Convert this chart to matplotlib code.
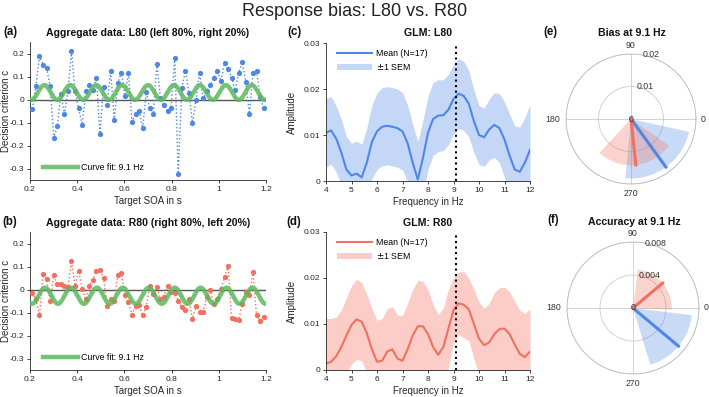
import numpy as np
import matplotlib
matplotlib.use("Agg")
import matplotlib.pyplot as plt

plt.rcParams['font.family'] = ['Liberation Sans', 'DejaVu Sans']

# ---------------- data ----------------
soa_first, soa_last = 0.21, 1.19
crit_L80 = [-0.040, 0.058, 0.187, 0.152, 0.138, 0.057, -0.168, -0.117, 0.025, -0.064,
            0.036, 0.209, 0.035, -0.038, -0.110, 0.035, 0.061, 0.042, 0.094, -0.149,
            0.054, -0.022, 0.126, -0.091, 0.071, 0.117, 0.017, 0.116, -0.097, -0.062,
            -0.048, -0.126, 0.033, -0.039, -0.065, 0.155, 0.006, -0.023, -0.049, -0.036,
            0.180, -0.323, 0.051, 0.123, 0.030, -0.101, -0.001, 0.116, 0.006, 0.036,
            0.065, 0.095, 0.125, 0.080, 0.157, 0.133, 0.095, 0.040, 0.116, 0.162,
            0.075, -0.062, 0.114, 0.126, 0.013, -0.038]
crit_R80 = [-0.014, -0.043, -0.113, 0.068, 0.046, -0.052, 0.061, 0.022, 0.022, 0.014,
            0.010, 0.125, 0.017, 0.080, 0.003, -0.043, 0.017, 0.043, 0.080, 0.084,
            0.051, -0.070, -0.041, -0.052, 0.064, 0.071, -0.026, -0.055, -0.109, -0.070,
            -0.067, -0.113, -0.077, 0.017, -0.019, 0.010, -0.041, -0.033, 0.017, -0.012,
            -0.014, -0.048, -0.077, -0.087, -0.041, -0.128, -0.070, -0.099, -0.096, -0.033,
            -0.004, -0.062, -0.041, 0.003, 0.054, 0.104, -0.125, -0.128, -0.131, -0.062,
            -0.012, -0.026, 0.078, -0.113, -0.135, -0.120]

fit_freq = 9.1
fit_L80 = dict(offset=0.0305, amp=0.032, peak=0.2606)
fit_R80 = dict(offset=-0.027, amp=0.035, peak=0.2636)

freq = [4.0, 4.2, 4.4, 4.6, 4.8, 5.0, 5.2, 5.4, 5.6, 5.8, 6.0, 6.2, 6.4, 6.6, 6.8,
        7.0, 7.2, 7.4, 7.6, 7.8, 8.0, 8.2, 8.4, 8.6, 8.8, 9.0, 9.2, 9.4, 9.6, 9.8,
        10.0, 10.2, 10.4, 10.6, 10.8, 11.0, 11.2, 11.4, 11.6, 11.8, 12.0]
mean_L80 = [0.0105, 0.0110, 0.0092, 0.0062, 0.0025, 0.0012, 0.0016, 0.0008, 0.0040, 0.0085,
            0.0108, 0.0118, 0.0120, 0.0118, 0.0115, 0.0108, 0.0082, 0.0040, 0.0003, 0.0050,
            0.0105, 0.0135, 0.0142, 0.0143, 0.0155, 0.0178, 0.0190, 0.0185, 0.0168, 0.0130,
            0.0100, 0.0095, 0.0112, 0.0122, 0.0115, 0.0090, 0.0055, 0.0025, 0.0020, 0.0040,
            0.0068]
sem_L80 = [0.0075, 0.0073, 0.0072, 0.0072, 0.0071, 0.0070, 0.0071, 0.0072, 0.0075, 0.0080,
           0.0083, 0.0085, 0.0085, 0.0085, 0.0085, 0.0084, 0.0083, 0.0083, 0.0082, 0.0081,
           0.0080, 0.0079, 0.0078, 0.0077, 0.0076, 0.0076, 0.0076, 0.0075, 0.0072, 0.0068,
           0.0064, 0.0063, 0.0066, 0.0070, 0.0075, 0.0082, 0.0090, 0.0095, 0.0097, 0.0098,
           0.0098]
mean_R80 = [0.0014, 0.0018, 0.0030, 0.0050, 0.0075, 0.0098, 0.0110, 0.0105, 0.0080, 0.0045,
            0.0018, 0.0020, 0.0040, 0.0045, 0.0025, 0.0020, 0.0045, 0.0075, 0.0095, 0.0095,
            0.0078, 0.0050, 0.0033, 0.0050, 0.0090, 0.0130, 0.0145, 0.0142, 0.0132, 0.0100,
            0.0068, 0.0054, 0.0060, 0.0078, 0.0089, 0.0090, 0.0078, 0.0055, 0.0035, 0.0028,
            0.0040]
sem_R80 = [0.0098, 0.0094, 0.0085, 0.0080, 0.0082, 0.0085, 0.0087, 0.0085, 0.0085, 0.0088,
           0.0090, 0.0092, 0.0093, 0.0093, 0.0095, 0.0098, 0.0100, 0.0100, 0.0100, 0.0098,
           0.0097, 0.0092, 0.0087, 0.0085, 0.0085, 0.0070, 0.0068, 0.0072, 0.0068, 0.0075,
           0.0080, 0.0080, 0.0085, 0.0090, 0.0090, 0.0090, 0.0092, 0.0095, 0.0095, 0.0095,
           0.0093]

bias_L80 = dict(angle=306, amp=0.0183, spread=41.5)
bias_R80 = dict(angle=276, amp=0.0142, spread=49)
acc_L80 = dict(angle=320, amp=0.0072, spread=33)
acc_R80 = dict(angle=40, amp=0.0047, spread=42.5)

# ---------------- style ----------------
BLUE = '#4f87e6'
RED = '#f2705f'
GREEN = '#5cb85c'
BLUE_BAND = '#c5d7f6'
RED_BAND = '#fbcdc6'
AX = '#262626'
W, H = 709, 397
TICK_FS = 6.0
LAB_FS = 7.0
TITLE_FS = 7.6
LET_FS = 8.3

fig = plt.figure(figsize=(W / 100, H / 100), dpi=100)


def px(x, y):
    return x / W, 1 - y / H


def rect_px(x0, y0, x1, y1):
    return [x0 / W, 1 - y1 / H, (x1 - x0) / W, (y1 - y0) / H]


fig.text(*px(354.5, 11), 'Response bias: L80 vs. R80', ha='center', va='center',
         fontsize=13, color='#222222')


def style_axes(ax):
    for s in ['top', 'right']:
        ax.spines[s].set_visible(False)
    for s in ['left', 'bottom']:
        ax.spines[s].set_color(AX)
        ax.spines[s].set_linewidth(0.6)
    ax.tick_params(direction='out', length=2.5, width=0.6, labelsize=TICK_FS, colors=AX, pad=1.5)


def labels(ax, rect, xlabel, ylabel, ylab_x, title, letter, letter_x):
    x0, y0, x1, y1 = rect
    hpx = y1 - y0
    wpx = x1 - x0
    ax.set_xlabel(xlabel, fontsize=LAB_FS, color=AX, va='center')
    ax.xaxis.set_label_coords(0.5, -20.5 / hpx)
    ax.set_ylabel(ylabel, fontsize=LAB_FS, color=AX, va='center')
    ax.yaxis.set_label_coords((ylab_x - x0) / wpx, 0.5)
    fig.text(*px((x0 + x1) / 2, y0 - 9.5), title, ha='center', va='center',
             fontsize=TITLE_FS, fontweight='bold', color='#111111')
    fig.text(*px(letter_x, y0 - 10.5), letter, ha='center', va='center',
             fontsize=LET_FS, fontweight='bold', color='#111111')


def time_panel(rect, vals, fit, color, title, letter):
    ax = fig.add_axes(rect_px(*rect))
    t = np.linspace(soa_first, soa_last, len(vals))
    tt = np.linspace(0.2, 1.2, 800)
    ax.axhline(0, color='#555555', lw=1.0, zorder=1)
    ax.plot(t, vals, ':', color=color, lw=1.0, zorder=2)
    ax.plot(t, vals, 'o', color=color, ms=3.8, mec='none', zorder=3)
    ax.plot(tt, fit['offset'] + fit['amp'] * np.cos(2 * np.pi * fit_freq * (tt - fit['peak'])),
            color=GREEN, lw=3.2, alpha=0.85, zorder=4, label='Curve fit: 9.1 Hz')
    ax.set_xlim(0.2, 1.2)
    ax.set_ylim(-0.35, 0.25)
    ax.set_xticks([0.2, 0.4, 0.6, 0.8, 1.0, 1.2])
    ax.set_xticklabels(['0.2', '0.4', '0.6', '0.8', '1', '1.2'])
    ax.set_yticks([-0.3, -0.2, -0.1, 0, 0.1, 0.2])
    ax.set_yticklabels(['-0.3', '-0.2', '-0.1', '0', '0.1', '0.2'])
    style_axes(ax)
    labels(ax, rect, 'Target SOA in s', 'Decision criterion c', 5.7, title, letter, 10)
    ax.legend(loc='lower left', frameon=False, fontsize=6.3, handlelength=4.0,
              handletextpad=0.35, borderaxespad=0, borderpad=0,
              bbox_to_anchor=(13 / 236, 8 / 138))
    return ax


def freq_panel(rect, mean, sem, color, band, title, letter):
    ax = fig.add_axes(rect_px(*rect))
    f = np.array(freq)
    m = np.array(mean)
    s = np.array(sem)
    ax.fill_between(f, m - s, m + s, color=band, lw=0, label='$\\pm$1 SEM', zorder=1)
    ax.plot(f, m, color=color, lw=1.5, label='Mean (N=17)', zorder=2)
    ax.axvline(fit_freq, color='k', ls=':', lw=1.5, zorder=3)
    ax.set_xlim(4, 12)
    ax.set_ylim(0, 0.03)
    ax.set_xticks(range(4, 13))
    ax.set_yticks([0, 0.01, 0.02, 0.03])
    ax.set_yticklabels(['0', '0.01', '0.02', '0.03'])
    style_axes(ax)
    labels(ax, rect, 'Frequency in Hz', 'Amplitude', 292, title, letter, 294)
    h, l = ax.get_legend_handles_labels()
    ax.legend([h[1], h[0]], [l[1], l[0]], loc='upper left', frameon=False, fontsize=6.3,
              handlelength=4.0, handletextpad=0.4, borderaxespad=0, borderpad=0,
              labelspacing=0.5, bbox_to_anchor=(11 / 204, 1 - 6 / 138))
    return ax


def polar_panel(cx, cy, rad, items, rmax, rticks, rlabels, title, letter, letter_x):
    rect = rect_px(cx - rad, cy - rad, cx + rad, cy + rad)
    ax = fig.add_axes(rect, projection='polar')
    for d, col in items:
        th0 = np.deg2rad(d['angle'] - d['spread'])
        th1 = np.deg2rad(d['angle'] + d['spread'])
        th = np.linspace(th0, th1, 60)
        ax.fill(np.concatenate([[0], th, [0]]), np.concatenate([[0], np.full(60, d['amp']), [0]]),
                color=col, alpha=0.3, lw=0, zorder=2)
    for d, col in items:
        ax.plot([np.deg2rad(d['angle'])] * 2, [0, d['amp']], color=col, lw=2.2, zorder=3)
    ax.set_ylim(0, rmax)
    ax.set_yticks(rticks)
    ax.set_yticklabels([])
    ax.set_xticks(np.deg2rad([0, 90, 180, 270]))
    ax.set_xticklabels([])
    ax.tick_params(axis='x', length=0)
    ax.grid(True, color='#cccccc', lw=0.6)
    ax.spines['polar'].set_color('#bbbbbb')
    ax.spines['polar'].set_linewidth(0.6)
    for r, lab in zip([0] + list(rticks), rlabels):
        ax.text(np.deg2rad(80), r, lab, fontsize=6.3, color='#333333',
                ha='left' if r else 'center', va='center', zorder=5)
    for (x, y), lab in zip([(cx, cy - rad - 8), (cx - rad - 13.5, cy), (cx + rad + 7.5, cy),
                            (cx, cy + rad + 9)], ['90', '180', '0', '270']):
        fig.text(*px(x, y), lab, ha='center', va='center', fontsize=6.3, color='#333333')
    fig.text(*px(cx + 1, cy - rad - 20.5), title, ha='center', va='center',
             fontsize=TITLE_FS, fontweight='bold', color='#111111')
    fig.text(*px(letter_x, cy - rad - 22), letter, ha='center', va='center',
             fontsize=LET_FS, fontweight='bold', color='#111111')
    return ax


time_panel((30, 42, 266, 180), crit_L80, fit_L80, BLUE,
           'Aggregate data: L80 (left 80%, right 20%)', '(a)')
time_panel((30, 232, 266, 370), crit_R80, fit_R80, RED,
           'Aggregate data: R80 (right 80%, left 20%)', '(b)')
freq_panel((326, 43, 530, 181), mean_L80, sem_L80, BLUE, BLUE_BAND, 'GLM: L80', '(c)')
freq_panel((326, 232, 530, 370), mean_R80, sem_R80, RED, RED_BAND, 'GLM: R80', '(d)')
polar_panel(631, 119, 65, [(bias_L80, BLUE), (bias_R80, RED)], 0.02,
            [0.01, 0.02], ['0', '0.01', '0.02'], 'Bias at 9.1 Hz', '(e)', 550)
polar_panel(633, 308, 66, [(acc_L80, BLUE), (acc_R80, RED)], 0.008,
            [0.004, 0.008], ['0', '0.004', '0.008'], 'Accuracy at 9.1 Hz', '(f)', 553)

fig.savefig('out.png', dpi=100)
